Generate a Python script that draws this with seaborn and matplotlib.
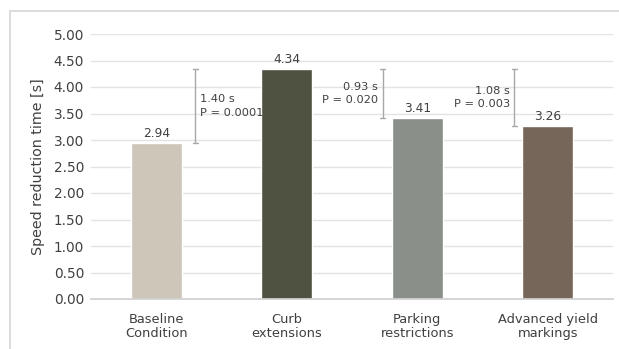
import matplotlib
matplotlib.use("Agg")
import matplotlib.pyplot as plt
import seaborn as sns
import pandas as pd
from matplotlib.patches import Rectangle

# Mean speed reduction time per treatment
categories = ["Baseline\nCondition", "Curb\nextensions", "Parking\nrestrictions", "Advanced yield\nmarkings"]
values = [2.94, 4.34, 3.41, 3.26]
colors = ["#cdc6b9", "#4f5241", "#8a8f89", "#766559"]
y_ticks = [0.0, 0.5, 1.0, 1.5, 2.0, 2.5, 3.0, 3.5, 4.0, 4.5, 5.0]

# Pairwise comparisons: (lower bar index, upper bar index, difference label, p-value label)
comparisons = [
    (0, 1, "1.40 s", "P = 0.0001"),
    (2, 1, "0.93 s", "P = 0.020"),
    (3, 1, "1.08 s", "P = 0.003"),
]

sns.set_theme(style="white")
plt.rcParams["font.family"] = ["DejaVu Sans"]
text_color = "#404040"

df = pd.DataFrame({"category": categories, "value": values})

W, H = 619, 349
fig = plt.figure(figsize=(W / 100, H / 100), dpi=100)
fig.patch.set_facecolor("white")

# light frame around the chart (open to the right and bottom edges)
fig.patches.append(Rectangle((10 / W, -0.05), 1.1, (H - 11) / H + 0.05, transform=fig.transFigure,
                             fill=False, edgecolor="#d6d6d6", linewidth=1.2))

ax = fig.add_axes([91 / W, (H - 299) / H, (613 - 91) / W, (299 - 34) / H])
sns.barplot(data=df, x="category", y="value", hue="category", palette=colors,
            width=0.39, legend=False, ax=ax, saturation=1)

ax.set_xlim(-0.5, len(categories) - 0.5)
ax.set_ylim(0, 5)
ax.set_yticks(y_ticks)
ax.set_yticklabels([f"{t:.2f}" for t in y_ticks], fontsize=9.8, color=text_color)
ax.yaxis.grid(True, color="#e3e3e3", linewidth=1)
ax.set_axisbelow(True)
for side in ["left", "right", "top"]:
    ax.spines[side].set_visible(False)
ax.spines["bottom"].set_color("#d0d0d0")
ax.tick_params(axis="y", length=0, pad=5)
ax.tick_params(axis="x", length=0, pad=10, labelsize=9.4, labelcolor=text_color)
ax.set_xticks(range(len(categories)))
ax.set_xticklabels(categories, linespacing=1.1)
ax.set_xticks([i + 0.5 for i in range(len(categories) - 1)], minor=True)
ax.tick_params(axis="x", which="minor", length=4, color="#d0d0d0", direction="out")
ax.set_xlabel("")
ax.set_ylabel("Speed reduction time [s]", fontsize=10.3, color=text_color, labelpad=6)

# value labels above bars
for i, v in enumerate(values):
    ax.text(i, v + 0.06, f"{v:.2f}", ha="center", va="bottom", fontsize=8.8, color=text_color)

# comparison brackets
bracket_color = "#a8a8a8"
offsets = {0: 0.105, 2: -0.07, 3: -0.06}
for lo, hi, diff, p in comparisons:
    half = 0.195
    if lo < hi:
        x = lo + half + offsets[lo]
        ha, tx = "left", x + 0.035
    else:
        x = lo - half + offsets[lo]
        ha, tx = "right", x - 0.035
    y0, y1 = values[lo], values[hi]
    ax.plot([x, x], [y0, y1], color=bracket_color, linewidth=1, solid_capstyle="butt")
    for yy in (y0, y1):
        ax.plot([x - 0.018, x + 0.018], [yy, yy], color=bracket_color, linewidth=1)
    ax.text(tx, (y0 + y1) / 2, f"{diff}\n{p}", ha=ha, va="center", fontsize=8.2,
            color=text_color, linespacing=1.45, multialignment="right" if ha == "right" else "left")

fig.savefig("out.png", dpi=100)
